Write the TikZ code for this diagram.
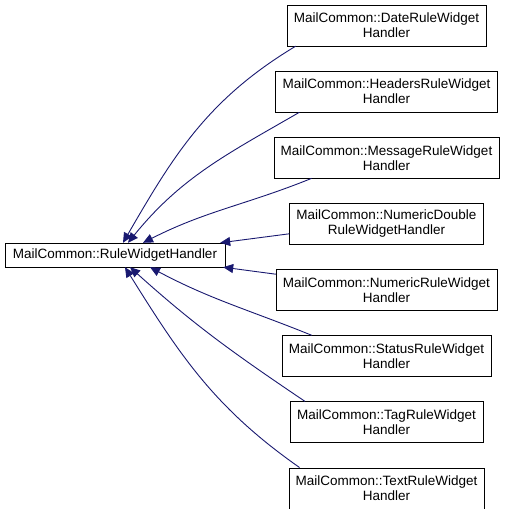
\documentclass[tikz,border=0pt]{standalone}
\usepackage{fontspec}
\setmainfont{Liberation Sans}
\usepackage{xcolor}
\usetikzlibrary{arrows.meta, positioning, calc}
\definecolor{edgeblue}{RGB}{25,25,112}

\begin{document}
\begin{tikzpicture}[x=1pt, y=1pt, node distance=24.7pt,
    cls/.style={draw, fill=white, align=center, inner xsep=7pt, inner ysep=2pt,
        minimum height=41pt, font=\fontsize{13.5}{15}\selectfont},
    edge/.style={draw=edgeblue, line width=0.9pt, -{Triangle[length=10pt, width=9pt]}}]
    \useasboundingbox (0,0) rectangle (507,-509);
    \node[cls, minimum height=24pt, minimum width=220pt] (base) at (115,-255) {MailCommon::RuleWidgetHandler};
    \node[cls] (date) at (386.5,-25.5) {MailCommon::DateRuleWidget\\Handler};
    \node[cls, below=of date] (headers) {MailCommon::HeadersRuleWidget\\Handler};
    \node[cls, below=of headers] (message) {MailCommon::MessageRuleWidget\\Handler};
    \node[cls, below=of message] (numdouble) {MailCommon::NumericDouble\\RuleWidgetHandler};
    \node[cls, below=of numdouble] (numeric) {MailCommon::NumericRuleWidget\\Handler};
    \node[cls, below=of numeric] (status) {MailCommon::StatusRuleWidget\\Handler};
    \node[cls, below=of status] (tag) {MailCommon::TagRuleWidget\\Handler};
    \node[cls, below=of tag] (text) {MailCommon::TextRuleWidget\\Handler};
    % edges to the base class
    \draw[edge] ([xshift=9pt]date.south west) to[out=211, in=60] ([xshift=8pt]base.north);
    \draw[edge] ([xshift=24pt]headers.south west) to[out=210, in=51] ([xshift=13pt]base.north);
    \draw[edge] ([xshift=38pt]message.south west) to[out=202, in=27] ([xshift=28pt]base.north);
    \draw[edge] ([yshift=-10pt]numdouble.west) -- ([xshift=-5pt]base.north east);
    \draw[edge] ([yshift=-5pt]numeric.north west) -- ([xshift=-2pt]base.south east);
    \draw[edge] ([xshift=30pt]status.north west) to[out=158, in=-28] ([xshift=35pt]base.south);
    \draw[edge] ([xshift=15pt]tag.north west) to[out=146, in=-42] ([xshift=15pt]base.south);
    \draw[edge] ([xshift=11pt]text.north west) to[out=145, in=-58] ([xshift=10pt]base.south);
\end{tikzpicture}
\end{document}
